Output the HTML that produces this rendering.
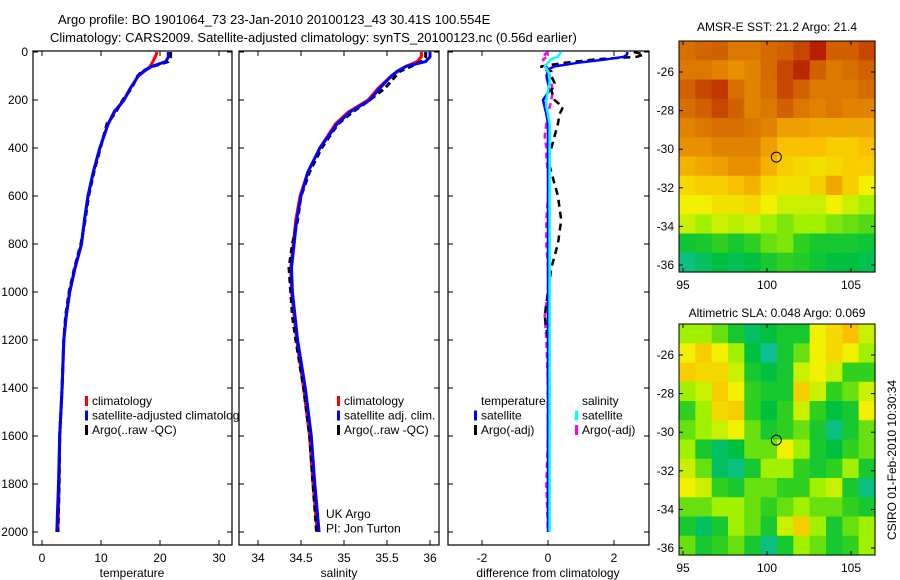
<!DOCTYPE html>
<html><head><meta charset="utf-8"><style>
body{margin:0;background:#fff;}
svg{display:block;font-family:"Liberation Sans",sans-serif;}
</style></head><body>
<svg id="fig" width="900" height="580" xmlns="http://www.w3.org/2000/svg">
<text x="58" y="24" font-size="13">Argo profile: BO 1901064_73 23-Jan-2010 20100123_43 30.41S 100.554E</text>
<text x="50" y="42" font-size="13">Climatology: CARS2009. Satellite-adjusted climatology: synTS_20100123.nc (0.56d earlier)</text>
<text x="777" y="31" font-size="12" text-anchor="middle">AMSR-E SST: 21.2 Argo: 21.4</text>
<text x="777" y="317" font-size="12" text-anchor="middle">Altimetric SLA: 0.048 Argo: 0.069</text>
<text transform="translate(896,460) rotate(-90)" font-size="12" text-anchor="middle">CSIRO 01-Feb-2010 10:30:34</text>
<g id="plots"></g>
</svg>
<script>
const depths=[0,20,40,60,80,100,150,200,250,300,400,500,600,700,800,900,1000,1100,1200,1400,1600,1800,2000];
const tempClim=[19.5,19.2,18.8,18.3,17.4,16.3,15.0,13.9,12.3,11.2,9.8,8.7,7.8,7.2,6.7,5.6,4.7,4.1,3.7,3.4,3.0,2.9,2.7];
const tempSat=[21.4,21.4,21.0,18.6,17.2,16.3,15.0,13.9,12.2,11.2,9.8,8.7,7.8,7.2,6.7,5.6,4.7,4.1,3.7,3.4,3.0,2.8,2.5];
const tempArgo=[21.8,21.8,21.4,18.8,17.0,16.2,15.2,13.7,12.5,11.0,9.9,8.8,7.9,7.3,6.6,5.5,4.6,4.0,3.7,3.4,3.0,2.9,2.7];
const salClim=[35.9,35.9,35.85,35.72,35.63,35.55,35.4,35.28,35.05,34.9,34.72,34.58,34.49,34.44,34.41,34.38,34.39,34.42,34.45,34.53,34.6,34.64,34.69];
const salSat=[36.0,36.0,35.95,35.72,35.62,35.55,35.42,35.3,35.07,34.92,34.72,34.58,34.5,34.45,34.42,34.39,34.4,34.43,34.46,34.55,34.62,34.66,34.71];
const salArgo=[35.95,35.95,35.9,35.78,35.65,35.6,35.48,35.3,35.1,34.93,34.74,34.6,34.5,34.46,34.4,34.36,34.38,34.4,34.44,34.53,34.6,34.64,34.68];
const diffDepths=[0,10,20,30,45,60,70,80,100,130,160,200,230,260,300,350,400,450,500,600,700,800,900,1000,1100,1200,1400,1600,1800,2000];
const tdSat=[2.4,2.4,2.3,1.8,0.9,0.2,0.05,0.0,-0.05,0.0,0.05,-0.15,-0.1,-0.05,0,0,0,0,0,0,0,0,0,0,0,0,0,0,0,0];
const tdArgo=[2.6,2.9,2.7,1.5,0.5,-0.2,-0.2,0.1,0.1,0.2,0.1,0.2,0.45,0.35,0.3,0.2,0.1,0,0.1,0.3,0.4,0.3,0.1,0.0,-0.1,0.0,0,0,0,0];
const sdSat=[0.4,0.35,0.3,0.1,0.0,-0.1,-0.05,0.0,0.05,0.05,0.0,-0.05,-0.05,0,0.05,0.05,0.05,0.05,0.05,0.05,0.05,0.05,0.05,0.05,0.05,0.05,0.05,0.05,0.05,0.05];
const sdArgo=[0.0,-0.1,0.0,-0.15,-0.1,-0.05,0.0,0.05,0.05,0.1,0.15,0.1,0.05,0,-0.05,-0.1,-0.05,-0.05,0,0,-0.05,-0.05,0,0,-0.1,-0.05,0,0,-0.05,0];
const depthTicks=[0,200,400,600,800,1000,1200,1400,1600,1800,2000];
const tempTicks=[0,10,20,30];
const salTicks=[34,34.5,35,35.5,36];
const salTickLabels=["34","34.5","35","35.5","36"];
const diffTicks=[-2,0,2];
const lonTicks=[95,100,105];
const latTicks=[-26,-28,-30,-32,-34,-36];
const sstGrid=[
[0.82,0.84,0.85,0.8,0.8,0.83,0.85,0.88,0.93,0.85,0.85,0.88],
[0.8,0.8,0.78,0.75,0.78,0.83,0.88,0.92,0.85,0.8,0.82,0.85],
[0.85,0.88,0.9,0.82,0.78,0.82,0.88,0.85,0.8,0.8,0.8,0.83],
[0.82,0.85,0.88,0.85,0.78,0.8,0.85,0.8,0.78,0.8,0.78,0.78],
[0.78,0.8,0.82,0.82,0.8,0.78,0.72,0.72,0.7,0.7,0.7,0.7],
[0.75,0.75,0.78,0.78,0.78,0.72,0.65,0.65,0.65,0.62,0.62,0.65],
[0.68,0.7,0.72,0.75,0.75,0.68,0.62,0.6,0.58,0.6,0.62,0.62],
[0.6,0.62,0.62,0.65,0.68,0.6,0.58,0.58,0.62,0.7,0.62,0.55],
[0.55,0.55,0.58,0.58,0.6,0.55,0.5,0.5,0.5,0.55,0.5,0.45],
[0.5,0.45,0.5,0.48,0.5,0.45,0.42,0.45,0.45,0.42,0.4,0.38],
[0.28,0.3,0.35,0.3,0.35,0.4,0.42,0.35,0.3,0.3,0.3,0.28],
[0.15,0.2,0.25,0.22,0.25,0.3,0.35,0.32,0.28,0.25,0.25,0.22]];
const slaGrid=[
[0.45,0.45,0.4,0.3,0.2,0.25,0.3,0.3,0.55,0.6,0.65,0.5],
[0.55,0.62,0.55,0.45,0.25,0.12,0.3,0.4,0.55,0.6,0.55,0.45],
[0.62,0.6,0.6,0.5,0.3,0.25,0.3,0.5,0.55,0.5,0.35,0.35],
[0.45,0.5,0.62,0.55,0.35,0.3,0.3,0.62,0.5,0.35,0.4,0.5],
[0.35,0.45,0.6,0.62,0.35,0.25,0.35,0.5,0.35,0.25,0.3,0.55],
[0.4,0.45,0.5,0.55,0.4,0.3,0.35,0.4,0.3,0.15,0.3,0.4],
[0.45,0.3,0.2,0.25,0.4,0.4,0.55,0.45,0.3,0.25,0.35,0.4],
[0.5,0.4,0.2,0.15,0.3,0.45,0.45,0.35,0.3,0.35,0.45,0.3],
[0.55,0.5,0.35,0.3,0.4,0.4,0.35,0.35,0.45,0.5,0.3,0.15],
[0.4,0.4,0.45,0.45,0.4,0.35,0.4,0.45,0.4,0.4,0.35,0.3],
[0.3,0.2,0.3,0.45,0.4,0.3,0.5,0.62,0.45,0.3,0.4,0.45],
[0.4,0.3,0.35,0.4,0.3,0.15,0.3,0.45,0.4,0.3,0.35,0.45]];
const argoLon=100.554, argoLat=-30.41;

const NS="http://www.w3.org/2000/svg";
const root=document.getElementById('plots');
function el(tag,attrs,parent){const e=document.createElementNS(NS,tag);for(const k in attrs)e.setAttribute(k,attrs[k]);(parent||root).appendChild(e);return e;}
function txt(x,y,s,anchor,parent){const t=el('text',{x:x,y:y,'font-size':12,'text-anchor':anchor||'start'},parent);t.textContent=s;return t;}

const PT=51,PB=545;
const yD=d=>52+d*0.24;
const xT=v=>42+v*5.9;
const xS=v=>258+(v-34)*86;
const xDf=v=>548+v*33;

function frame(x0,x1,name){
  const g=el('g',{});
  
  
  el('rect',{x:x0,y:PT,width:x1-x0,height:PB-PT,fill:'none',stroke:'#000','stroke-width':1.2},g);
  depthTicks.forEach(d=>{el('line',{x1:x0,x2:x0+5,y1:yD(d),y2:yD(d),stroke:'#000'},g);el('line',{x1:x1-5,x2:x1,y1:yD(d),y2:yD(d),stroke:'#000'},g);});
  return g;
}
function line(xs,ys,xf,color,dash,name,w){
  const p=el('polyline',{points:xs.map((v,i)=>xf(v).toFixed(1)+','+yD(ys[i]).toFixed(1)).join(' '),fill:'none',stroke:color,'stroke-width':w||3,'stroke-dasharray':dash||'none','stroke-linejoin':'round'});
  
  
}
function xTicks(g,ticks,labels,xf,x0){
  ticks.forEach((t,i)=>{const x=xf(t);el('line',{x1:x,x2:x,y1:PB,y2:PB-5,stroke:'#000'},g);el('line',{x1:x,x2:x,y1:PT,y2:PT+5,stroke:'#000'},g);
    const l=txt(x,PB+17,labels[i],'middle',g);
    
    });
}
function legend(items,x,y0){
  items.forEach((it,i)=>{const y=y0+i*14.5;
    if(it[1])el('rect',{x:x,y:y-9,width:3,height:10,fill:it[1]});
    const t=txt(x+7,y,it[0]);
    
    });
}

const g1=frame(33,232,'temperature-panel');
depthTicks.forEach(d=>{const t=txt(28,yD(d)+4,String(d),'end',g1);
  
  });
xTicks(g1,tempTicks,tempTicks.map(String),xT);
const xl1=txt(132,577,'temperature','middle');


line(tempClim,depths,xT,'#f00',null,'temp-climatology-line');
line(tempArgo,depths,xT,'#000','6,4','temp-argo-line');
line(tempSat,depths,xT,'#00f',null,'temp-satellite-line');
legend([['climatology','#f00'],['satellite-adjusted climatolog','#00f'],['Argo(..raw -QC)','#000']],85,405);

const g2=frame(239,439,'salinity-panel');
xTicks(g2,salTicks,salTickLabels,xS);
const xl2=txt(339,577,'salinity','middle');


line(salClim,depths,xS,'#f00',null,'sal-climatology-line');
line(salArgo,depths,xS,'#000','6,4','sal-argo-line');
line(salSat,depths,xS,'#00f',null,'sal-satellite-line');
legend([['climatology','#f00'],['satellite adj. clim.','#00f'],['Argo(..raw -QC)','#000']],337,405);
legend([['UK Argo',null],['PI: Jon Turton',null]],319,518);

const g3=frame(448,649,'difference-panel');
xTicks(g3,diffTicks,['-2','0','2'],xDf);
const xl3=txt(548,577,'difference from climatology','middle');


line(sdArgo,diffDepths,xDf,'#f0f','6,4','sal-argo-diff-line',2.5);
line(tdArgo,diffDepths,xDf,'#000','7,5','temp-argo-diff-line',2.5);
line(tdSat,diffDepths,xDf,'#00f',null,'temp-satellite-diff-line',2.5);
line(sdSat,diffDepths,xDf,'#0ff',null,'sal-satellite-diff-line',2.5);
legend([['temperature',null],['satellite','#00f'],['Argo(-adj)','#000']],474,405);
legend([['salinity',null],['satellite','#0ff'],['Argo(-adj)','#f0f']],575,405);

const stops=[[0.1,[16,192,160]],[0.25,[0,192,64]],[0.35,[48,208,32]],[0.45,[160,240,0]],[0.55,[240,240,0]],[0.65,[248,192,0]],[0.75,[232,144,0]],[0.85,[208,96,0]],[0.95,[176,16,0]]];
function cmap(v){
  if(v<=stops[0][0])return 'rgb('+stops[0][1]+')';
  for(let i=1;i<stops.length;i++){if(v<=stops[i][0]){const a=stops[i-1],b=stops[i],f=(v-a[0])/(b[0]-a[0]);
    return 'rgb('+a[1].map((c,j)=>Math.round(c+(b[1][j]-c)*f)).join(',')+')';}}
  return 'rgb('+stops[stops.length-1][1]+')';
}
function map(grid,top,name,cellName){
  const L=679,R=875,B=top+231;
  const xL=lon=>683+(lon-95)*16.8;
  const yL=lat=>(top+31)+(-26-lat)*19.3;
  const g=el('g',{});
  
  
  const rows=grid.length,cols=grid[0].length,cw=(R-L)/cols,ch=(B-top)/rows;
  grid.forEach((row,r)=>row.forEach((v,c)=>{
    const cell=el('rect',{x:(L+c*cw).toFixed(2),y:(top+r*ch).toFixed(2),width:(cw+0.6).toFixed(2),height:(ch+0.6).toFixed(2),fill:cmap(v)},g);
    
    
  }));
  el('rect',{x:L,y:top,width:R-L,height:B-top,fill:'none',stroke:'#000'},g);
  lonTicks.forEach(t=>{const x=xL(t);el('line',{x1:x,x2:x,y1:B,y2:B-4,stroke:'#000'},g);el('line',{x1:x,x2:x,y1:top,y2:top+4,stroke:'#000'},g);
    const l=txt(x,B+17,String(t),'middle',g);
    
    });
  latTicks.forEach(t=>{const y=yL(t);el('line',{x1:L,x2:L+4,y1:y,y2:y,stroke:'#000'},g);el('line',{x1:R-4,x2:R,y1:y,y2:y,stroke:'#000'},g);
    const l=txt(L-5,y+4,String(t),'end',g);
    
    });
  const m=el('circle',{cx:xL(argoLon),cy:yL(argoLat),r:5,fill:'none',stroke:'#000','stroke-width':1},g);
  
  
}
map(sstGrid,41,'sst-map','sst-cell');
map(slaGrid,324,'sla-map','sla-cell');
</script>
</body></html>
